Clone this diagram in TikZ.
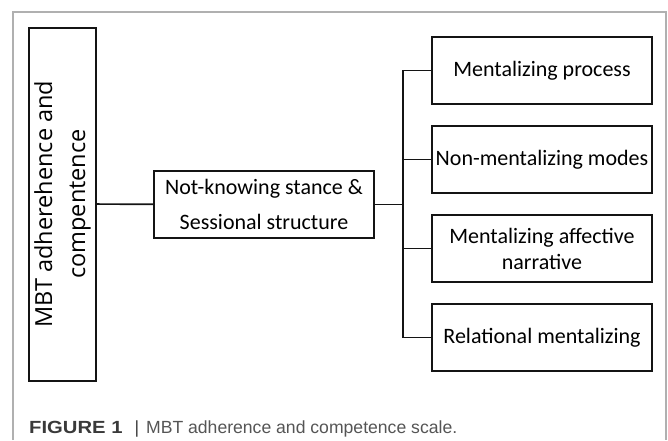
\documentclass[tikz,border=0pt]{standalone}
\usepackage{fontspec}
\usepackage{graphicx}
\newfontfamily\calfont{Carlito}
\newfontfamily\opfont{Open Sans}
\newfontfamily\capfont{Liberation Sans}
\definecolor{framegray}{HTML}{B0B0B0}
\definecolor{capdark}{HTML}{3A3A3A}
\definecolor{caplight}{HTML}{555555}
\begin{document}
\begin{tikzpicture}[x=1pt,y=-1pt,
  box/.style={draw=black!92, line width=2pt, inner sep=0pt, minimum width=220pt, minimum height=67pt, align=center, font=\calfont\fontsize{22}{26}\selectfont},
  link/.style={draw=black!92, line width=1.7pt}]
\useasboundingbox (0,0) rectangle (668,440);
\draw[framegray, line width=1.5pt] (13,440) -- (13,12) -- (666,12) -- (666,440);
\node[box, rotate=90, minimum width=353pt, minimum height=67pt, font=\opfont\fontsize{23.5}{33}\selectfont] (L) at (62.5,204) {MBT adherehence and\\compentence};
\node[box, font=\calfont\fontsize{22}{35}\selectfont] (M) at (264,204.5) {Not-knowing stance \&\\Sessional structure};
\node[box] (R1) at (542,70.5) {Mentalizing process};
\node[box] (R2) at (542,159.5) {Non-mentalizing modes};
\node[box] (R3) at (542,248.5) {Mentalizing affective\\narrative};
\node[box] (R4) at (542,337.5) {Relational mentalizing};
\coordinate (bus) at (403,204);
\draw[link] (L) -- (M);
\draw[link] (M.east) -- (M.east -| bus);
\draw[link] (R1.west) -| (bus |- R4.west) -- (R4.west);
\draw[link] (R2.west) -- (R2.west -| bus);
\draw[link] (R3.west) -- (R3.west -| bus);
\node[anchor=base west, inner sep=0pt, font=\capfont\fontsize{17.6}{18}\selectfont] (cap) at (29,433) {\textcolor{capdark}{\scalebox{1.15}[1]{\textbf{FIGURE 1}}}\hspace{12pt}\textcolor{capdark}{|}\hspace{7pt}\textcolor{caplight}{MBT adherence and competence scale.}};
\end{tikzpicture}
\end{document}
